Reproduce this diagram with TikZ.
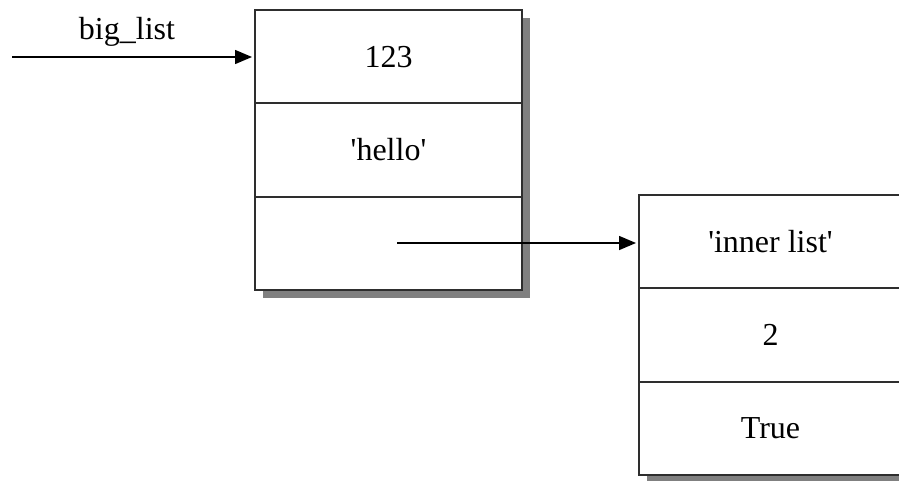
\documentclass[tikz,border=0pt]{standalone}
\usepackage{fontspec}
\setmainfont{Liberation Serif}
\usetikzlibrary{arrows.meta,backgrounds}
\definecolor{shadowgray}{gray}{0.5}
\definecolor{framegray}{gray}{0.18}
\tikzset{
  cell/.style={draw=framegray, line width=1.8pt, minimum width=267pt,
    minimum height=93.3pt, inner sep=0pt, outer sep=0pt, anchor=north west,
    font=\fontsize{32}{36}\selectfont},
  cellB/.style={cell, minimum width=290pt},
  ptr/.style={line width=1.5pt, -{Triangle[length=17pt,width=14pt]}, shorten >=3pt},
  shadowfill/.style={fill=shadowgray},
  lbl/.style={font=\fontsize{32}{36}\selectfont, inner sep=0pt}
}
\newcommand{\sq}{\textquotesingle}
\begin{document}
\begin{tikzpicture}[x=1pt,y=-1pt]
\useasboundingbox (0,0) rectangle (899,480);
% big list
\node[cell] (a1) at (255,10) {123};
\node[cell] (a2) at (255,103.3) {\sq hello\sq};
\node[cell] (a3) at (255,196.6) {};
% inner list
\node[cellB] (b1) at (639,195) {\hspace*{-27pt}\sq inner list\sq};
\node[cellB] (b2) at (639,288.3) {\hspace*{-27pt}2};
\node[cellB] (b3) at (639,381.6) {\hspace*{-27pt}True};
\begin{scope}[on background layer]
  \fill[shadowfill] ([shift={(8pt,-8pt)}]a1.north west) rectangle ([shift={(8pt,-8pt)}]a3.south east);
  \fill[white] (a1.north west) rectangle (a3.south east);
  \fill[shadowfill] ([shift={(8pt,-8pt)}]b1.north west) rectangle ([shift={(8pt,-8pt)}]b3.south east);
  \fill[white] (b1.north west) rectangle (b3.south east);
\end{scope}
% label and pointers
\node[lbl] (name) at (127,32) {big\_list};
\coordinate (start) at (12,57);
\draw[ptr] (start) -- (start -| a1.west);
\coordinate (inner) at (397,243);
\draw[ptr] (inner) -- (inner -| b1.west);
\end{tikzpicture}
\end{document}
